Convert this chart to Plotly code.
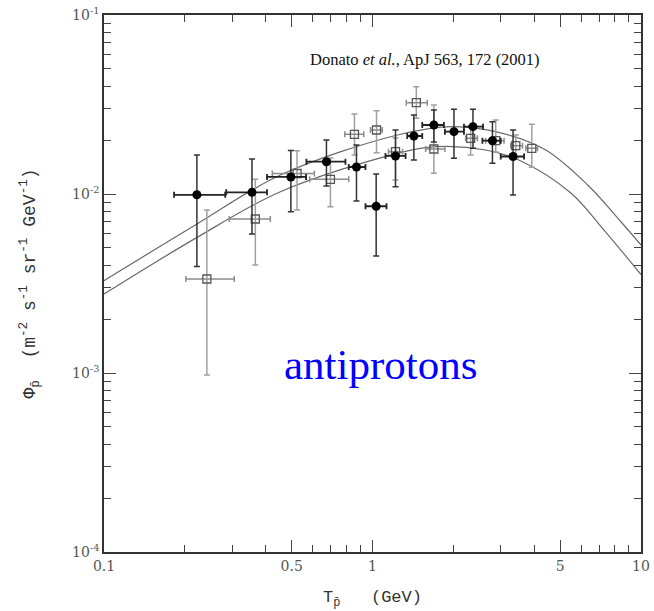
import plotly.graph_objects as go

# ---- theory curves ----
upper_x = [0.1, 0.219, 0.454, 1.24, 1.98, 3.05, 4.42, 6.33, 8.42, 10]
upper_y = [3.28e-3, 6.71e-3, 1.276e-2, 2.136e-2, 2.377e-2, 2.183e-2, 1.761e-2, 1.123e-2, 7.00e-3, 5.19e-3]
lower_x = [0.1, 0.219, 0.454, 1.24, 1.72, 2.64, 3.57, 5.48, 7.28, 10]
lower_y = [2.76e-3, 5.65e-3, 1.03e-2, 1.688e-2, 1.837e-2, 1.761e-2, 1.529e-2, 1.013e-2, 6.29e-3, 3.55e-3]

# ---- filled circles ----
circ_x = [0.2218, 0.3557, 0.4966, 0.6737, 0.8716, 1.032, 1.218, 1.426, 1.693, 2.011, 2.367, 2.797, 3.338]
circ_xlo = [0.1824, 0.2853, 0.4046, 0.5673, 0.8157, 0.9416, 1.118, 1.347, 1.532, 1.861, 2.191, 2.567, 3.003]
circ_xhi = [0.2828, 0.4046, 0.5657, 0.793, 0.9416, 1.128, 1.328, 1.532, 1.845, 2.191, 2.58, 3.003, 3.669]
circ_y = [0.0099, 0.01022, 0.01245, 0.01515, 0.01415, 0.00854, 0.01631, 0.02109, 0.02429, 0.02229,
          0.02377, 0.01985, 0.0162]
circ_ylo = [0.00393, 0.00598, 0.00796, 0.01108, 0.00914, 0.0045, 0.01099, 0.01549, 0.01952, 0.01583,
            0.018, 0.01484, 0.00987]
circ_yhi = [0.01651, 0.01569, 0.0175, 0.02003, 0.01878, 0.01293, 0.02278, 0.02762, 0.02945, 0.02972,
            0.02972, 0.02534, 0.02278]

# ---- open squares ----
sq_x = [0.2416, 0.3661, 0.5236, 0.6971, 0.8566, 1.035, 1.218, 1.456, 1.693, 2.321, 2.877, 3.417, 3.92]
sq_xlo = [0.2018, 0.2927, 0.4235, 0.5834, 0.7883, 0.983, 1.147, 1.336, 1.577, 2.223, 2.64, 3.273, 3.724]
sq_xhi = [0.3056, 0.4163, 0.6074, 0.8157, 0.9279, 1.087, 1.294, 1.6, 1.861, 2.459, 3.09, 3.619, 4.117]
sq_y = [0.00335, 0.00725, 0.01302, 0.01208, 0.02156, 0.02278, 0.01723, 0.03236, 0.01784, 0.02047,
        0.01985, 0.01861, 0.018]
sq_ylo = [0.000974, 0.00401, 0.00814, 0.00849, 0.01651, 0.01701, 0.01197, 0.02648, 0.01305, 0.01651,
          0.01716, 0.01589, 0.0141]
sq_yhi = [0.00814, 0.01208, 0.01745, 0.01589, 0.02798, 0.02919, 0.02055, 0.03975, 0.03142, 0.02398,
          0.0259, 0.02136, 0.02451]

x_ticks = [0.1, 0.5, 1, 5, 10]
x_ticktext = ["0.1", "0.5", "1", "5", "10"]
y_ticks = [1e-4, 1e-3, 1e-2, 1e-1]
y_ticktext = ["10<sup>-4</sup>", "10<sup>-3</sup>", "10<sup>-2</sup>", "10<sup>-1</sup>"]
x_minor = [0.2, 0.3, 0.4, 0.6, 0.7, 0.8, 0.9, 2, 3, 4, 6, 7, 8, 9]
y_minor = [m * d for d in (1e-4, 1e-3, 1e-2) for m in (2, 3, 4, 5, 6, 7, 8, 9)]


def plus(v, hi):
    return [h - a for a, h in zip(v, hi)]


def minus(v, lo):
    return [a - l for a, l in zip(v, lo)]


fig = go.Figure()
curve_style = dict(color="#6a6a6a", width=1.2, shape="spline", smoothing=1.0)
fig.add_trace(go.Scatter(x=upper_x, y=upper_y, mode="lines", line=curve_style, showlegend=False))
fig.add_trace(go.Scatter(x=lower_x, y=lower_y, mode="lines", line=curve_style, showlegend=False))

fig.add_trace(go.Scatter(
    x=sq_x, y=sq_y, mode="markers", showlegend=False,
    marker=dict(symbol="square-open", size=8, color="#555555", line=dict(width=1.3)),
    error_x=dict(type="data", symmetric=False, array=plus(sq_x, sq_xhi), arrayminus=minus(sq_x, sq_xlo),
                 color="#8c8c8c", thickness=1.5, width=3),
    error_y=dict(type="data", symmetric=False, array=plus(sq_y, sq_yhi), arrayminus=minus(sq_y, sq_ylo),
                 color="#a0a0a0", thickness=1.5, width=3),
))
fig.add_trace(go.Scatter(
    x=circ_x, y=circ_y, mode="markers", showlegend=False,
    marker=dict(symbol="circle", size=9, color="black"),
    error_x=dict(type="data", symmetric=False, array=plus(circ_x, circ_xhi), arrayminus=minus(circ_x, circ_xlo),
                 color="#222222", thickness=1.8, width=3),
    error_y=dict(type="data", symmetric=False, array=plus(circ_y, circ_yhi), arrayminus=minus(circ_y, circ_ylo),
                 color="#333333", thickness=1.5, width=3),
))

axis_common = dict(
    type="log", showline=True, linecolor="#333333", linewidth=1.5, mirror="allticks",
    ticks="inside", ticklen=12, tickwidth=1, tickcolor="#444444", showgrid=False, zeroline=False,
    tickfont=dict(family="DejaVu Serif", size=14, color="#555555"), automargin=False,
)

fig.update_xaxes(
    **axis_common, range=[-1, 1], tickvals=x_ticks, ticktext=x_ticktext,
    minor=dict(tickvals=x_minor, ticks="inside", ticklen=7, tickcolor="#444444", showgrid=False),
    title=dict(text="T<sub>p̄</sub>   (GeV)", font=dict(family="Liberation Mono", size=17, color="#333333"),
               standoff=18),
)
fig.update_yaxes(
    **axis_common, range=[-4, -1], tickvals=y_ticks, ticktext=y_ticktext,
    minor=dict(tickvals=y_minor, ticks="inside", ticklen=7, tickcolor="#444444", showgrid=False),
    title=dict(text="Φ<sub>p̄</sub>  (m<sup>-2</sup> s<sup>-1</sup> sr<sup>-1</sup> GeV<sup>-1</sup>)",
               font=dict(family="Liberation Mono", size=18, color="#333333"), standoff=32),
)

fig.add_annotation(
    x=0.598, y=0.9385, xref="paper", yref="paper", showarrow=False,
    text="Donato <i>et al.</i>, ApJ 563, 172 (2001)",
    font=dict(family="Liberation Serif", size=16.5, color="#111111"),
)
fig.add_annotation(
    x=0.514, y=0.302, xref="paper", yref="paper", showarrow=False,
    text="antiprotons",
    font=dict(family="Liberation Serif", size=43, color="#0000ff"),
)

fig.update_layout(
    width=654, height=611,
    margin=dict(l=104, r=13, t=15, b=59, autoexpand=False),
    paper_bgcolor="white", plot_bgcolor="white",
)

fig.write_html("out.html")
